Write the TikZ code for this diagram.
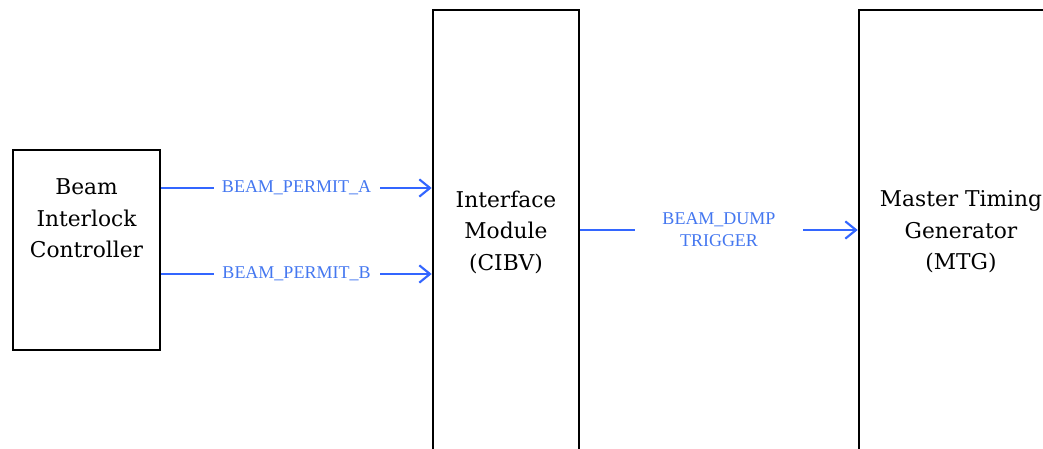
\documentclass[tikz,border=0pt]{standalone}
\usepackage{fontspec}
\setmainfont{DejaVu Serif}
\newfontfamily\lblfont{Liberation Serif}
\usetikzlibrary{arrows.meta}
\definecolor{sigblue}{RGB}{51,102,255}
\definecolor{lblblue}{RGB}{68,119,240}
\tikzset{
  blk/.style={draw=black, line width=2pt, fill=white, inner sep=0pt},
  blktext/.style={align=center, font=\fontsize{16.3pt}{23.6pt}\selectfont, inner sep=0pt},
  sig/.style={draw=sigblue, line width=1.6pt, -{Straight Barb[length=8pt,width=13pt,line width=1.6pt]}},
  lbl/.style={fill=white, text=lblblue, font=\lblfont\fontsize{13.5pt}{16.5pt}\selectfont, minimum width=124.5pt, inner sep=0pt, align=center}
}
\begin{document}
\begin{tikzpicture}[x=0.75pt,y=-0.75pt]
\clip (0,0) rectangle (1043,449);
\node[blk, minimum width=147*0.75pt, minimum height=200*0.75pt] (bic) at (86.5,250) {};
\node[blk, minimum width=146*0.75pt, minimum height=460*0.75pt] (cibv) at (506,240) {};
\node[blk, minimum width=206*0.75pt, minimum height=460*0.75pt] (mtg) at (962,240) {};
\node[blktext] (bict) at (86.5,218.5) {Beam\\Interlock\\Controller};
\node[blktext] (cibvt) at (506,232) {Interface\\Module\\(CIBV)};
\node[blktext] (mtgt) at (961,232) {Master Timing\\Generator\\(MTG)};
\coordinate (ya) at (0,188);
\coordinate (yb) at (0,274);
\coordinate (yc) at (0,230);
\draw[sig] (bic.east |- ya) -- node[lbl] {BEAM\_PERMIT\_A} (cibv.west |- ya);
\draw[sig] (bic.east |- yb) -- node[lbl] {BEAM\_PERMIT\_B} (cibv.west |- yb);
\draw[sig] (cibv.east |- yc) -- node[lbl, minimum width=125.5pt] {BEAM\_DUMP\\TRIGGER} (mtg.west |- yc);
\end{tikzpicture}
\end{document}
